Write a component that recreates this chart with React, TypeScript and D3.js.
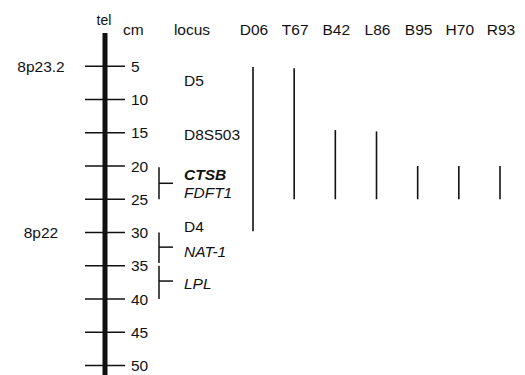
import React, { useEffect, useRef } from "react";
import * as d3 from "d3";

// genetic map: cM positions on 8p
const cmTicks = [5, 10, 15, 20, 25, 30, 35, 40, 45, 50];
const bands = [
  { name: "8p23.2", cm: 5 },
  { name: "8p22", cm: 30 },
];
const loci = [
  { name: "D5", cm: 7.1, style: "normal", weight: "normal" },
  { name: "D8S503", cm: 15.2, style: "normal", weight: "normal" },
  { name: "CTSB", cm: 21.2, style: "italic", weight: "bold" },
  { name: "FDFT1", cm: 23.9, style: "italic", weight: "normal" },
  { name: "D4", cm: 29.1, style: "normal", weight: "normal" },
  { name: "NAT-1", cm: 32.8, style: "italic", weight: "normal" },
  { name: "LPL", cm: 37.6, style: "italic", weight: "normal" },
];
// brackets grouping loci: [start, end, mid]
const brackets = [
  [20.2, 25, 22.6],
  [30, 34.6, 32.2],
  [35, 40, 37.3],
];
const samples = ["D06", "T67", "B42", "L86", "B95", "H70", "R93"];
const deletionStart = [5.1, 5.3, 14.6, 14.8, 20, 20, 20];
const deletionEnd = [29.8, 25, 25, 25, 25, 25, 25];

const W = 525;
const H = 375;

export default function App() {
  const ref = useRef<SVGSVGElement>(null);

  useEffect(() => {
    const svg = d3.select(ref.current);
    svg.selectAll("*").remove();
    svg.attr("width", W).attr("height", H);

    const font = "'Liberation Sans', Arial, Helvetica, sans-serif";
    const fs = 15.5;

    const y = d3.scaleLinear().domain([0, 50]).range([33, 365.5]);
    const x = d3.scalePoint<string>().domain(samples).range([253, 500]);
    const axisX = 105;

    const g = svg.append("g").attr("font-family", font).attr("font-size", fs).attr("fill", "#111");

    // headers
    g.append("text").attr("x", axisX - 1).attr("y", 25).attr("text-anchor", "middle").attr("font-size", 14).text("tel");
    g.append("text").attr("x", 123).attr("y", 35).text("cm");
    g.append("text").attr("x", 192).attr("y", 35).attr("text-anchor", "middle").text("locus");
    g.selectAll("text.hdr")
      .data(samples)
      .join("text")
      .attr("class", "hdr")
      .attr("x", (d) => x(d)! + 1)
      .attr("y", 35)
      .attr("text-anchor", "middle")
      .text((d) => d);

    // chromosome line
    g.append("line")
      .attr("x1", axisX).attr("x2", axisX)
      .attr("y1", y(0)).attr("y2", H)
      .attr("stroke", "#111").attr("stroke-width", 5);

    // ticks and labels
    g.selectAll("line.tick")
      .data(cmTicks)
      .join("line")
      .attr("class", "tick")
      .attr("x1", 85).attr("x2", 125)
      .attr("y1", (d) => y(d)).attr("y2", (d) => y(d))
      .attr("stroke", "#111").attr("stroke-width", 1.6);
    g.selectAll("text.tl")
      .data(cmTicks)
      .join("text")
      .attr("class", "tl")
      .attr("x", 131)
      .attr("y", (d) => y(d))
      .attr("dy", "0.36em")
      .text((d) => d);

    // cytogenetic bands
    g.selectAll("text.band")
      .data(bands)
      .join("text")
      .attr("class", "band")
      .attr("x", 41)
      .attr("y", (d) => y(d.cm))
      .attr("dy", "0.36em")
      .attr("text-anchor", "middle")
      .text((d) => d.name);

    // loci
    g.selectAll("text.locus")
      .data(loci)
      .join("text")
      .attr("class", "locus")
      .attr("x", 184)
      .attr("y", (d) => y(d.cm))
      .attr("dy", "0.36em")
      .attr("font-style", (d) => d.style)
      .attr("font-weight", (d) => d.weight)
      .text((d) => d.name);

    // brackets
    const bx = 159;
    brackets.forEach(([a, b, m]) => {
      g.append("line").attr("x1", bx).attr("x2", bx).attr("y1", y(a)).attr("y2", y(b))
        .attr("stroke", "#111").attr("stroke-width", 1.5);
      g.append("line").attr("x1", bx).attr("x2", 173).attr("y1", y(m)).attr("y2", y(m))
        .attr("stroke", "#111").attr("stroke-width", 1.5);
    });

    // deletion intervals per sample
    g.selectAll("line.del")
      .data(samples)
      .join("line")
      .attr("class", "del")
      .attr("x1", (d) => x(d)!).attr("x2", (d) => x(d)!)
      .attr("y1", (d, i) => y(deletionStart[i]))
      .attr("y2", (d, i) => y(deletionEnd[i]))
      .attr("stroke", "#111").attr("stroke-width", 1.6);
  }, []);

  return <svg ref={ref} style={{ position: "absolute", left: 0, top: 0, background: "#fff" }} />;
}
